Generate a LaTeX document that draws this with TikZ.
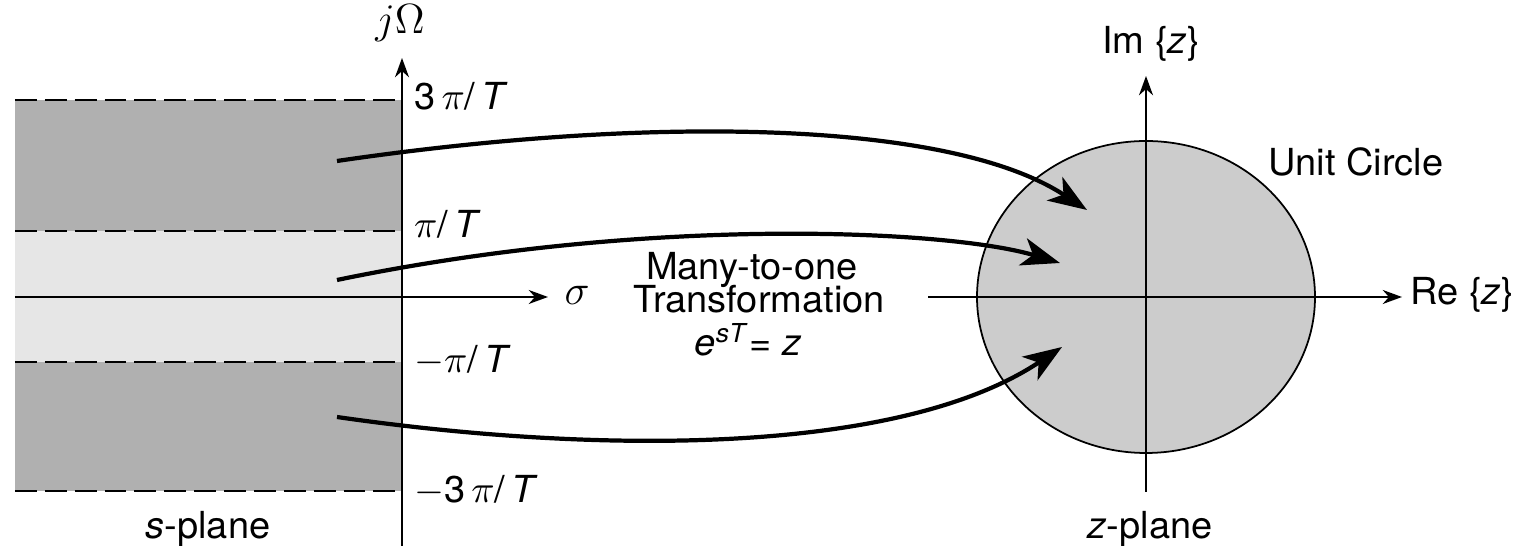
\documentclass[tikz,border=0pt]{standalone}
\usepackage{fontspec}
\setmainfont{TeX Gyre Heros}[FakeStretch=1.02]
\usetikzlibrary{arrows.meta}
\definecolor{stripdark}{RGB}{176,176,176}
\definecolor{striplight}{RGB}{230,230,230}
\definecolor{diskgray}{RGB}{204,204,204}
\begin{document}
\begin{tikzpicture}[font=\fontsize{10.6}{12}\selectfont,
  axis/.style={line width=0.5pt,-{Stealth[length=5.5pt,width=4pt]}},
  edge/.style={line width=0.5pt,dash pattern=on 6.2pt off 2.3pt},
  map/.style={line width=1.2pt,-{Stealth[length=11pt,width=8pt,inset=3pt]}},
  tick/.style={anchor=base west,inner sep=1pt},
  sym/.style={anchor=base,font=\fontsize{12.5}{14}\selectfont}]
  \useasboundingbox (0,0) rectangle (15.21,5.46);
  % s-plane strips
  \fill[stripdark] (0.15,3.15) rectangle (4.02,4.46);
  \fill[striplight] (0.15,1.84) rectangle (4.02,3.15);
  \fill[stripdark] (0.15,0.55) rectangle (4.02,1.84);
  \foreach \y in {4.46,3.15,1.84,0.55}
    \draw[edge] (0.15,\y) -- (4.02,\y);
  \coordinate (sl) at (0.15,2.49);  \coordinate (sr) at (5.48,2.49);
  \coordinate (sb) at (4.02,0);     \coordinate (st) at (4.02,4.88);
  \draw[axis] (sl) -- (sr);
  \draw[axis] (sb) -- (st);
  \node[sym] (jw) at (4.00,5.12) {$j\Omega$};
  \node[sym] (sig) at (5.77,2.41) {$\sigma$};
  \node[tick] (p3) at (4.10,4.36) {3\,$\pi$/\,\textit{T}};
  \node[tick] (p1) at (4.10,3.08) {$\pi$/\,\textit{T}};
  \node[tick] (m1) at (4.10,1.73) {$-\pi$/\,\textit{T}};
  \node[tick] (m3) at (4.10,0.43) {$-$3\,$\pi$/\,\textit{T}};
  \node[anchor=base] (splane) at (2.08,0.07) {\textit{s}-plane};
  % z-plane
  \draw[fill=diskgray,line width=0.5pt] (11.46,2.49) ellipse (1.69 and 1.56);
  \coordinate (zl) at (9.28,2.49);  \coordinate (zr) at (14.02,2.49);
  \coordinate (zb) at (11.46,0.54); \coordinate (zt) at (11.46,4.70);
  \draw[axis] (zl) -- (zr);
  \draw[axis] (zb) -- (zt);
  \node[anchor=base] (im) at (11.51,4.92) {Im \{\textit{z}\}};
  \node[anchor=base] (re) at (14.62,2.41) {Re \{\textit{z}\}};
  \node[anchor=base] (uc) at (13.56,3.70) {Unit Circle};
  \node[anchor=base] (zplane) at (11.50,0.07) {\textit{z}-plane};
  % transformation
  \node[anchor=base] (many) at (7.52,2.66) {Many-to-one};
  \node[anchor=base] (trans) at (7.59,2.33) {Transformation};
  \node[anchor=base] (eq) at (7.48,1.90) {\textit{e}\textsuperscript{\textit{sT}}= \textit{z}};
  \coordinate (a1) at (3.37,3.85); \coordinate (b1) at (10.87,3.36);
  \coordinate (a2) at (3.37,2.66); \coordinate (b2) at (10.60,2.83);
  \coordinate (a3) at (3.37,1.29); \coordinate (b3) at (10.62,1.99);
  \draw[map] (a1) .. controls (6.50,4.31) and (9.50,4.26) .. (b1);
  \draw[map] (a2) .. controls (6.50,3.31) and (9.50,3.16) .. (b2);
  \draw[map] (a3) .. controls (6.00,0.91) and (9.00,0.91) .. (b3);
\end{tikzpicture}
\end{document}
